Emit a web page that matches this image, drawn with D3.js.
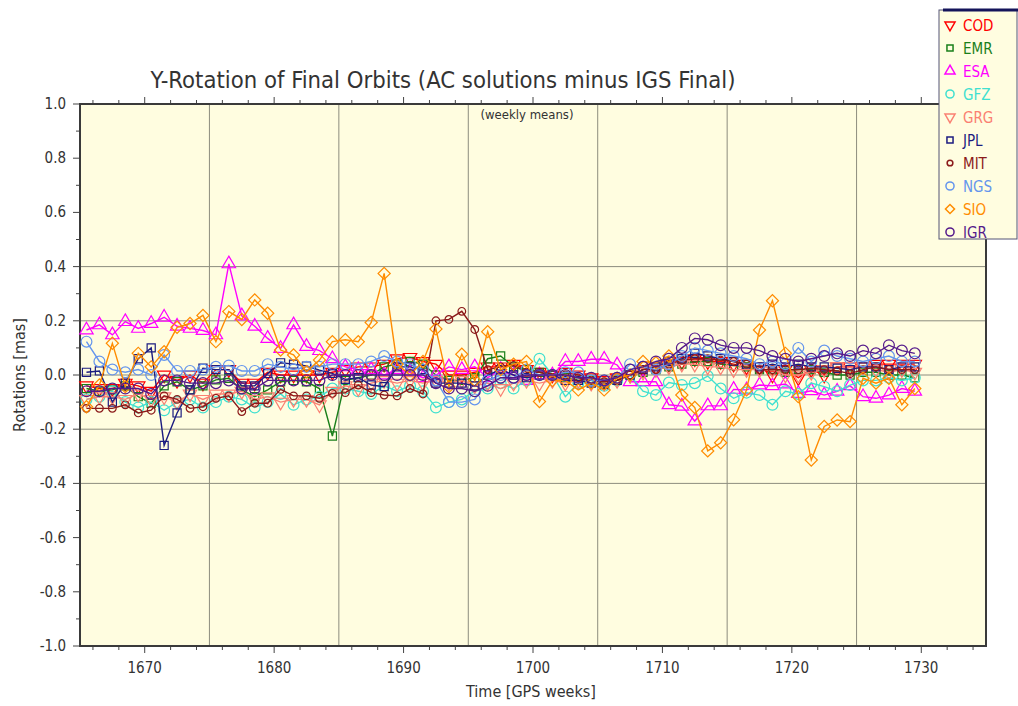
<!DOCTYPE html>
<html lang="en">
<head>
<meta charset="UTF-8">
<title>Y-Rotation of Final Orbits</title>
<script src="https://cdn.jsdelivr.net/npm/d3@7"></script>
<style>
  body { margin: 0; background: #fff; }
  svg text { font-family: "Liberation Sans Narrow", "DejaVu Sans Condensed", "Liberation Sans", sans-serif; fill: #333; }
</style>
</head>
<body>
<svg id="chart" width="1018" height="706"></svg>
<script>
// GPS weeks 1665 .. 1729 (weekly means)
const weeks = d3.range(1665, 1730);

const acNames  = ["COD", "EMR", "ESA", "GFZ", "GRG", "JPL", "MIT", "NGS", "SIO", "IGR"];
const acColors = ["#ff0000", "#1a7f1a", "#ff00ff", "#40e0d0", "#fa8072", "#1c1c80", "#8b1a1a", "#6495ed", "#ff8c00", "#551a8b"];
const acShapes = ["down", "square", "up", "circle", "down", "square", "dot", "circle", "diamond", "circle"];

const cod = [-.04,-.05,-.05,-.03,-.04,-.06,.0,-.02,.0,-.03,.02,.02,-.03,-.03,.01,.0,.0,.0,
  .0,.01,.02,.03,.03,.04,.06,.065,.05,.04,.0,.0,.01,.03,.03,.04,.02,.01,
  .0,.01,.0,-.01,-.02,-.01,.0,.02,.03,.04,.05,.06,
  .05,.05,.04,.03,.03,.0,.02,-.01,.02,.0,.03,.03,.03,.04,.04,.04,.04];
const emr = [-.05,-.06,-.055,-.04,-.08,-.105,-.04,-.025,-.055,-.04,-.018,-.012,-.055,-.08,-.055,-.025,-.02,-.025,
  -.05,-.225,-.02,-.01,.0,.03,.04,.05,.04,.0,-.02,-.02,-.01,.06,.07,.03,.02,.01,
  .0,-.01,-.02,-.02,-.03,-.02,.0,.01,.02,.03,.04,.05,
  .05,.04,.035,.03,.02,.02,.01,.02,.02,.01,.0,.0,.01,.01,.0,.0,-.01];
const esa = [.166,.185,.148,.197,.172,.19,.213,.18,.172,.164,.148,.41,.218,.18,.135,.098,.185,.105,
  .09,.06,.03,.02,.02,.0,.02,.01,-.01,.0,.03,.02,.03,-.01,.02,.0,-.02,.0,
  .0,.05,.05,.058,.058,.037,-.025,-.025,-.025,-.11,-.115,-.17,
  -.114,-.114,-.053,-.055,-.037,-.04,-.033,-.068,-.058,-.074,-.06,-.04,-.08,-.086,-.074,-.05,-.06];
const gfz = [-.09,-.08,-.06,-.1,-.12,-.1,-.13,-.1,-.09,-.12,-.1,-.08,-.09,-.12,-.1,-.07,-.11,-.09,
  -.08,-.05,-.05,-.06,-.07,-.04,-.06,-.04,-.06,-.12,-.1,-.09,-.06,-.05,-.03,-.05,-.02,.06,
  .0,-.08,-.03,-.02,-.04,-.02,.0,-.06,-.074,-.028,-.037,-.03,
  -.004,-.05,-.086,-.065,-.074,-.11,-.06,-.07,-.03,-.043,-.06,-.037,-.02,-.02,-.01,-.02,-.01];
const grg = [-.09,-.08,-.08,-.09,-.07,-.09,-.08,-.1,-.07,-.09,-.07,-.07,-.06,-.09,-.08,-.1,-.09,-.09,
  -.11,-.06,-.04,-.05,-.03,-.02,-.03,-.02,-.03,-.02,-.03,-.02,-.04,-.03,-.05,-.03,-.02,-.03,
  -.02,-.03,-.02,-.03,-.03,-.02,.0,.01,.02,.03,.04,.04,
  .03,.03,.02,.02,.02,.02,.0,.0,.01,.02,.03,.02,.03,.02,.01,.02,.01];
const jpl = [.01,.015,-.1,-.03,.06,.1,-.26,-.14,-.055,.025,.02,.02,-.04,-.04,.005,.045,.04,.033,
  .018,.006,-.016,-.01,-.037,-.043,.03,.03,.02,-.03,-.03,-.03,-.04,.0,.02,.0,-.01,.0,
  .0,-.02,-.02,-.03,-.035,-.02,.0,.02,.03,.05,.06,.08,
  .07,.06,.05,.04,.03,.04,.03,.04,.03,.03,.025,.02,.03,.03,.02,.03,.03];
const mit = [-.123,-.123,-.123,-.11,-.14,-.13,-.077,-.09,-.123,-.117,-.086,-.077,-.135,-.104,-.104,-.053,-.077,-.077,
  -.086,-.068,-.065,-.037,-.065,-.074,-.077,-.05,-.07,.2,.205,.235,.168,.02,.03,.035,.01,.01,
  .005,.0,-.01,-.02,-.025,-.02,.0,.02,.02,.04,.055,.06,
  .06,.055,.05,.04,.02,.02,.02,.02,.025,.02,.015,.005,.02,.03,.02,.02,.02];
const ngs = [.123,.05,.02,.01,.02,.0,.074,.015,.015,.02,.03,.035,.015,.015,.04,.03,.02,.03,
  .03,.04,.04,.04,.05,.07,.05,.04,.02,-.02,-.1,-.1,-.09,-.02,.0,-.01,.02,.0,
  .0,.01,.01,-.02,-.02,-.01,.04,.03,.02,.04,.07,.1,
  .09,.08,.07,.06,.04,.05,.04,.1,.05,.09,.07,.06,.05,.06,.07,.05,.05];
const sio = [-.117,-.037,.117,-.043,.08,.03,.086,.176,.19,.22,.123,.234,.205,.277,.228,.092,.074,.012,
  .055,.123,.13,.123,.194,.375,.04,.0,.05,.17,-.043,.077,-.02,.16,.02,.04,.05,-.098,
  -.02,-.02,-.055,-.03,-.055,-.012,.0,.05,.045,.07,-.074,-.12,
  -.28,-.25,-.165,-.055,.166,.274,.08,-.08,-.314,-.19,-.166,-.172,-.012,-.03,-.012,-.11,-.05];
const igr = [-.06,-.06,-.05,-.05,-.05,-.07,-.02,-.02,-.03,-.03,-.03,-.02,-.05,-.05,-.02,-.02,-.02,-.02,
  -.02,.0,.0,.0,.0,.0,.0,.0,.0,-.03,-.05,-.05,-.06,-.04,-.01,-.01,.0,.0,
  .0,.0,-.01,-.01,-.02,-.01,.02,.03,.05,.06,.1,.135,
  .13,.11,.1,.1,.09,.07,.06,.05,.06,.07,.08,.07,.09,.08,.11,.09,.08];

const acValues = [cod, emr, esa, gfz, grg, jpl, mit, ngs, sio, igr];

const yTickValues = [1.0, 0.8, 0.6, 0.4, 0.2, 0.0, -0.2, -0.4, -0.6, -0.8, -1.0];
const xTickValues = [1670, 1680, 1690, 1700, 1710, 1720, 1730];

const svg = d3.select("#chart");
const plot = { left: 80, right: 986, top: 104, bottom: 646 };
const bg = "#fffde0";

const x = d3.scaleLinear().domain([1665, 1735]).range([plot.left, plot.right]);
const y = d3.scaleLinear().domain([-1, 1]).range([plot.bottom, plot.top]);

// plot background
svg.append("rect").attr("x", plot.left).attr("y", plot.top)
  .attr("width", plot.right - plot.left).attr("height", plot.bottom - plot.top).attr("fill", bg);

// grid lines
const grid = svg.append("g").attr("stroke", "#7a7a6e").attr("stroke-width", 1).attr("opacity", 0.85);
grid.selectAll("line.v").data(d3.range(1675, 1735, 10)).enter().append("line")
  .attr("x1", d => x(d)).attr("x2", d => x(d)).attr("y1", plot.top).attr("y2", plot.bottom);
grid.selectAll("line.h").data([0.4, 0.2, 0, -0.2, -0.4]).enter().append("line")
  .attr("x1", plot.left).attr("x2", plot.right).attr("y1", d => y(d)).attr("y2", d => y(d));

// ticks
const ticks = svg.append("g").attr("stroke", "#444").attr("stroke-width", 1);
d3.range(1666, 1736, 2).forEach(w => {
  const len = w % 10 === 0 ? 7 : 4;
  ticks.append("line").attr("x1", x(w)).attr("x2", x(w)).attr("y1", plot.top).attr("y2", plot.top - len);
  ticks.append("line").attr("x1", x(w)).attr("x2", x(w)).attr("y1", plot.bottom).attr("y2", plot.bottom + len);
});
d3.range(-10, 11).forEach(k => {
  const len = k % 2 === 0 ? 7 : 4;
  ticks.append("line").attr("x1", plot.left).attr("x2", plot.left - len).attr("y1", y(k / 10)).attr("y2", y(k / 10));
});

// frame
svg.append("rect").attr("x", plot.left).attr("y", plot.top)
  .attr("width", plot.right - plot.left).attr("height", plot.bottom - plot.top)
  .attr("fill", "none").attr("stroke", "#3a3a3a").attr("stroke-width", 2);

// tick labels (plain hyphen for negatives, like the original)
svg.selectAll("text.ylab").data(yTickValues).enter().append("text")
  .attr("x", 66).attr("y", d => y(d) + 5).attr("text-anchor", "end")
  .attr("font-size", 15).text(d => d.toFixed(1));
svg.selectAll("text.xlab").data(xTickValues).enter().append("text")
  .attr("x", d => x(d)).attr("y", 673).attr("text-anchor", "middle")
  .attr("font-size", 15).text(d => d);

// titles
svg.append("text").attr("x", 443).attr("y", 88).attr("text-anchor", "middle")
  .attr("font-size", 23).attr("textLength", 585).attr("lengthAdjust", "spacingAndGlyphs")
  .text("Y-Rotation of Final Orbits (AC solutions minus IGS Final)");
svg.append("text").attr("x", 527).attr("y", 119).attr("text-anchor", "middle")
  .attr("font-size", 13).text("(weekly means)");
svg.append("text").attr("x", 531).attr("y", 697).attr("text-anchor", "middle")
  .attr("font-size", 16).text("Time [GPS weeks]");
svg.append("text").attr("transform", "translate(25,375) rotate(-90)").attr("text-anchor", "middle")
  .attr("font-size", 16).text("Rotations [mas]");

// marker generator
function marker(shape, scale) {
  const s = scale || 1;
  if (shape === "up" || shape === "down") return d3.symbol().type(d3.symbolTriangle).size(78 * s * s)();
  if (shape === "square") return d3.symbol().type(d3.symbolSquare).size(66 * s * s)();
  if (shape === "diamond") return d3.symbol().type(d3.symbolSquare).size(74 * s * s)();
  if (shape === "dot") return d3.symbol().type(d3.symbolCircle).size(46 * s * s)();
  return d3.symbol().type(d3.symbolCircle).size(92 * s * s)();
}
function rot(shape) {
  if (shape === "down") return " rotate(180)";
  if (shape === "diamond") return " rotate(45)";
  return "";
}

// series
const line = d3.line().x((d, i) => x(weeks[i] + 0.5)).y(d => y(d));
acValues.forEach((vals, k) => {
  const g = svg.append("g");
  g.append("path").datum(vals).attr("d", line)
    .attr("fill", "none").attr("stroke", acColors[k]).attr("stroke-width", 1.4);
  g.selectAll("path.m").data(vals).enter().append("path")
    .attr("d", marker(acShapes[k]))
    .attr("transform", (d, i) => `translate(${x(weeks[i] + 0.5)},${y(d)})${rot(acShapes[k])}`)
    .attr("fill", "none").attr("stroke", acColors[k]).attr("stroke-width", 1.2);
});

// legend
const lg = svg.append("g");
lg.append("rect").attr("x", 939).attr("y", 10).attr("width", 78).attr("height", 229)
  .attr("fill", bg).attr("stroke", "#555577").attr("stroke-width", 1);
lg.append("line").attr("x1", 943).attr("x2", 1018).attr("y1", 10).attr("y2", 10)
  .attr("stroke", "#14145a").attr("stroke-width", 3);
acNames.forEach((name, k) => {
  const cy = 25 + k * 23;
  lg.append("path").attr("d", marker(acShapes[k], 0.75))
    .attr("transform", `translate(950,${cy})${rot(acShapes[k])}`)
    .attr("fill", "none").attr("stroke", acColors[k]).attr("stroke-width", 1.5);
  lg.append("text").attr("x", 963).attr("y", cy + 5.5).attr("font-size", 15)
    .style("fill", acColors[k]).text(name);
});
</script>
</body>
</html>
